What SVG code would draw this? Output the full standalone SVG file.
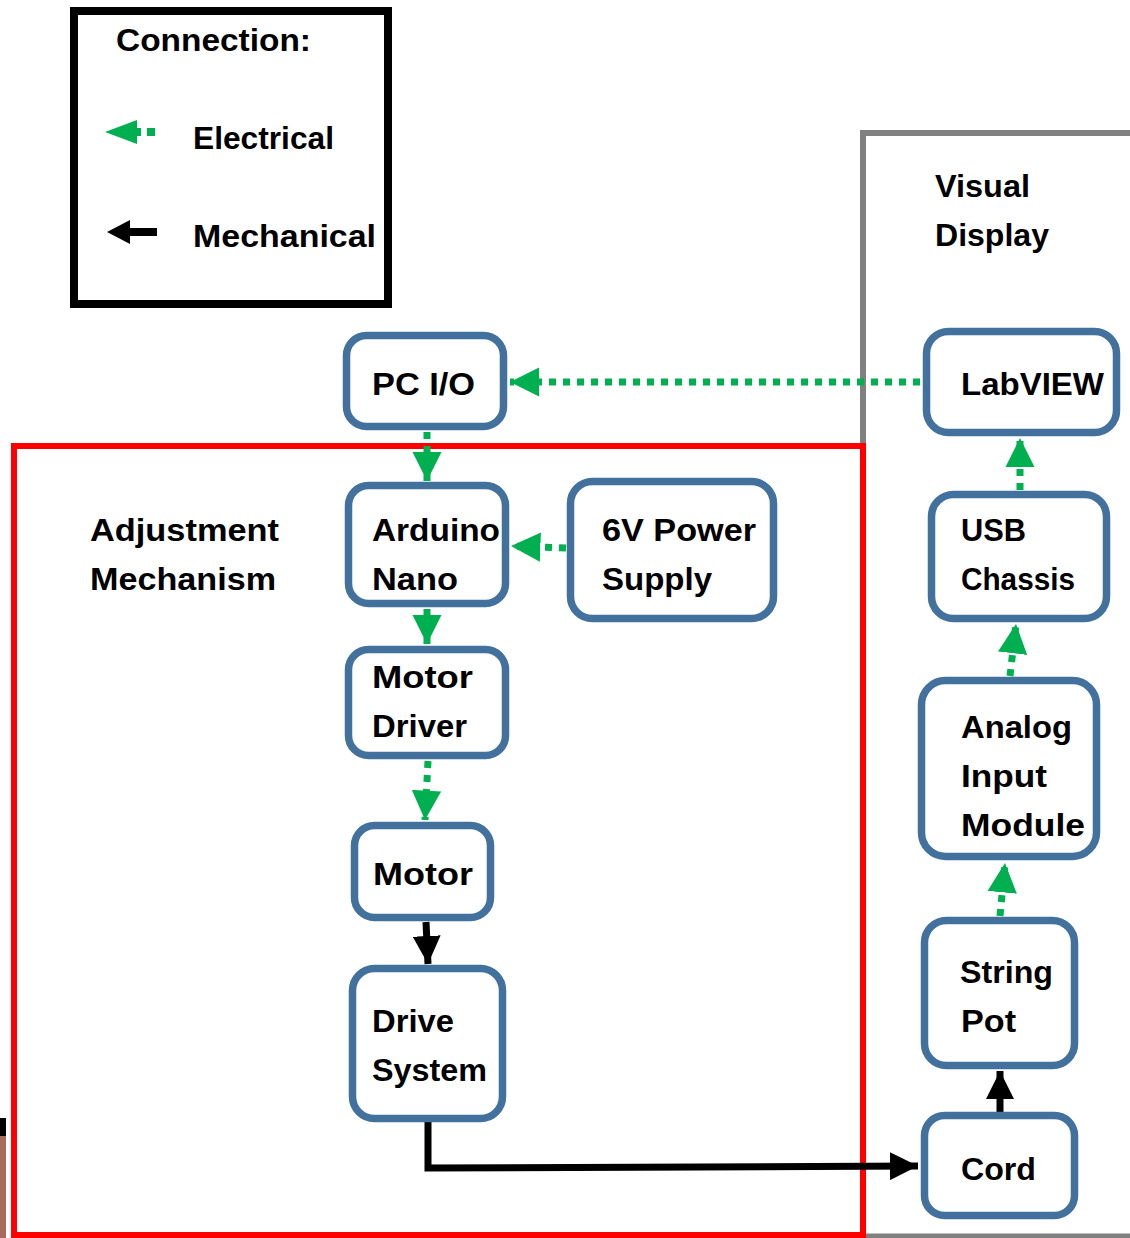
<svg xmlns="http://www.w3.org/2000/svg" width="1130" height="1238" viewBox="0 0 1130 1238">
<style>
text{font-family:"Liberation Sans",Arial,sans-serif;font-weight:bold;font-size:31px;fill:#000}
.node{fill:#fff;stroke:#41719c;stroke-width:7.5}
.el{fill:none;stroke:#00b050;stroke-width:7;stroke-dasharray:7 7}
.me{fill:none;stroke:#000;stroke-width:7}
</style>
<defs>
<marker id="ga" viewBox="0 0 10 10" refX="10" refY="5" markerWidth="4.2" markerHeight="4.2" markerUnits="strokeWidth" orient="auto"><path d="M0,0 L10,5 L0,10 z" fill="#00b050"/></marker>
<marker id="ba" viewBox="0 0 10 10" refX="10" refY="5" markerWidth="4" markerHeight="4" markerUnits="strokeWidth" orient="auto"><path d="M0,0 L10,5 L0,10 z" fill="#000"/></marker>
</defs>
<rect width="1130" height="1238" fill="#fff"/>
<!-- artifact at bottom-left -->
<rect x="0" y="1118" width="6" height="18" fill="#000"/>
<rect x="0" y="1136" width="6" height="102" fill="#a86a5c"/>

<g id="legend">
<rect x="74" y="11" width="314" height="293" fill="#fff" stroke="#000" stroke-width="8"/>
<text x="116" y="51" textLength="195" lengthAdjust="spacingAndGlyphs">Connection:</text>
<path d="M105,132 L137,120 L137,144 z" fill="#00b050"/>
<rect x="136" y="128" width="5" height="8" fill="#00b050"/>
<rect x="147" y="128" width="8" height="8" fill="#00b050"/>
<text x="193" y="149" textLength="141" lengthAdjust="spacingAndGlyphs">Electrical</text>
<path d="M107,232 L130,220 L130,244 z" fill="#000"/>
<rect x="128" y="228" width="29" height="8" fill="#000"/>
<text x="193" y="247" textLength="183" lengthAdjust="spacingAndGlyphs">Mechanical</text>
</g>

<g id="visual-display">
<path d="M863,1238 L863,133 L1130,133" fill="none" stroke="#808080" stroke-width="6"/>
<line x1="865" y1="1236" x2="1130" y2="1236" stroke="#808080" stroke-width="5"/>
<text x="935" y="197" textLength="95" lengthAdjust="spacingAndGlyphs">Visual</text>
<text x="935" y="246" textLength="114" lengthAdjust="spacingAndGlyphs">Display</text>
</g>

<g id="adjustment-mechanism">
<rect x="14" y="446" width="849" height="789" fill="none" stroke="#ff0000" stroke-width="6"/>
<text x="90" y="541" textLength="189" lengthAdjust="spacingAndGlyphs">Adjustment</text>
<text x="90" y="590" textLength="186" lengthAdjust="spacingAndGlyphs">Mechanism</text>
</g>

<g id="connectors">
<line class="el" x1="920" y1="382" x2="510" y2="382" marker-end="url(#ga)"/>
<line class="el" x1="427" y1="432" x2="427" y2="481" marker-end="url(#ga)"/>
<line class="el" x1="566" y1="548" x2="511" y2="546" marker-end="url(#ga)"/>
<line class="el" x1="427" y1="609" x2="427" y2="644" marker-end="url(#ga)"/>
<line class="el" x1="428" y1="761" x2="425" y2="820" marker-end="url(#ga)"/>
<line class="me" x1="426" y1="922" x2="428" y2="964" marker-end="url(#ba)"/>
<polyline class="me" points="428,1122 428,1168 918,1166" marker-end="url(#ba)"/>
<line class="me" x1="1000" y1="1112" x2="1000" y2="1071" marker-end="url(#ba)"/>
<line class="el" x1="1000" y1="916" x2="1005" y2="863" marker-end="url(#ga)"/>
<line class="el" x1="1010" y1="676" x2="1016" y2="624" marker-end="url(#ga)"/>
<line class="el" x1="1020" y1="490" x2="1020" y2="438" marker-end="url(#ga)"/>
</g>

<g id="pc-io">
<rect class="node" x="346.5" y="335.5" width="157" height="91" rx="20"/>
<text x="372" y="395" textLength="103" lengthAdjust="spacingAndGlyphs">PC I/O</text>
</g>
<g id="labview">
<rect class="node" x="926.5" y="331.5" width="190" height="101" rx="22"/>
<text x="961" y="395" textLength="143" lengthAdjust="spacingAndGlyphs">LabVIEW</text>
</g>
<g id="arduino-nano">
<rect class="node" x="348.5" y="485.5" width="157" height="118" rx="20"/>
<text x="372" y="541" textLength="128" lengthAdjust="spacingAndGlyphs">Arduino</text>
<text x="372" y="590" textLength="86" lengthAdjust="spacingAndGlyphs">Nano</text>
</g>
<g id="power-supply">
<rect class="node" x="570.5" y="481.5" width="203" height="137" rx="22"/>
<text x="602" y="541" textLength="154" lengthAdjust="spacingAndGlyphs">6V Power</text>
<text x="602" y="590" textLength="110" lengthAdjust="spacingAndGlyphs">Supply</text>
</g>
<g id="usb-chassis">
<rect class="node" x="931.5" y="494.5" width="175" height="124" rx="22"/>
<text x="961" y="541" textLength="65" lengthAdjust="spacingAndGlyphs">USB</text>
<text x="961" y="590" textLength="114" lengthAdjust="spacingAndGlyphs">Chassis</text>
</g>
<g id="motor-driver">
<rect class="node" x="348.5" y="649.5" width="157" height="106" rx="20"/>
<text x="372" y="688" textLength="101" lengthAdjust="spacingAndGlyphs">Motor</text>
<text x="372" y="737" textLength="95" lengthAdjust="spacingAndGlyphs">Driver</text>
</g>
<g id="analog-input-module">
<rect class="node" x="921.5" y="680.5" width="175" height="176" rx="24"/>
<text x="961" y="738" textLength="111" lengthAdjust="spacingAndGlyphs">Analog</text>
<text x="961" y="787" textLength="86" lengthAdjust="spacingAndGlyphs">Input</text>
<text x="961" y="836" textLength="124" lengthAdjust="spacingAndGlyphs">Module</text>
</g>
<g id="motor">
<rect class="node" x="354.5" y="825.5" width="136" height="92" rx="20"/>
<text x="373" y="885" textLength="100" lengthAdjust="spacingAndGlyphs">Motor</text>
</g>
<g id="string-pot">
<rect class="node" x="924.5" y="920.5" width="150" height="145" rx="22"/>
<text x="960" y="983" textLength="93" lengthAdjust="spacingAndGlyphs">String</text>
<text x="961" y="1032" textLength="55" lengthAdjust="spacingAndGlyphs">Pot</text>
</g>
<g id="drive-system">
<rect class="node" x="352.5" y="968.5" width="150" height="150" rx="22"/>
<text x="372" y="1032" textLength="82" lengthAdjust="spacingAndGlyphs">Drive</text>
<text x="372" y="1081" textLength="115" lengthAdjust="spacingAndGlyphs">System</text>
</g>
<g id="cord">
<rect class="node" x="924.5" y="1115.5" width="150" height="100" rx="20"/>
<text x="961" y="1180" textLength="75" lengthAdjust="spacingAndGlyphs">Cord</text>
</g>
</svg>
